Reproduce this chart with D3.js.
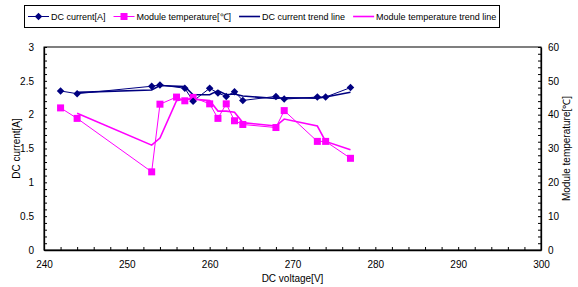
<!DOCTYPE html>
<meta charset="utf-8">
<head>
  <script src="https://cdn.jsdelivr.net/npm/d3@7"></script>
  <style>
    body { margin: 0; background: #fff; }
    text { font-family: "Liberation Sans", Arial, sans-serif; fill: #000; }
  </style>
</head>
<body>
<div id="container"></div>
<script>
// data (sorted by voltage)
var voltage = [242, 244, 253, 254, 256, 257, 258, 260, 261, 262, 263, 264, 268, 269, 273, 274, 277];
var current = [2.35, 2.31, 2.42, 2.44, null, 2.39, 2.20, 2.39, 2.32, 2.27, 2.34, 2.21, 2.27, 2.23, 2.26, 2.26, 2.40];
var temperature = [42.0, 38.9, 23.1, 43.1, 45.2, 44.1, 45.1, 43.2, 38.9, 43.2, 38.2, 37.1, 36.2, 41.2, 32.1, 32.1, 27.1];
var xTicks = [240, 250, 260, 270, 280, 290, 300];
var legendItems = ["DC current[A]", "Module temperature[\u2103]", "DC current trend line", "Module temperature trend line"];

var width = 578, height = 287;
var navy = "#000080", pink = "#ff00ff";

var svg = d3.select("#container").append("svg")
  .attr("width", width).attr("height", height);

var x = d3.scaleLinear().domain([240, 300]).range([44, 541]);
var yL = d3.scaleLinear().domain([0, 3]).range([250, 47]);
var yR = d3.scaleLinear().domain([0, 60]).range([250, 47]);

// plot frame
svg.append("rect")
  .attr("x", x(240)).attr("y", yL(3))
  .attr("width", x(300) - x(240)).attr("height", yL(0) - yL(3))
  .attr("fill", "none").attr("stroke", "#000").attr("stroke-width", 1);

// axes with inward ticks
function styleAxis(g) {
  g.select(".domain").attr("stroke", "#000").attr("stroke-width", 1.3);
  g.selectAll(".tick line").attr("stroke", "#000");
  g.selectAll("text").style("font-size", "10px").style("font-family", "Liberation Sans, Arial, sans-serif");
}

var bottom = svg.append("g").attr("transform", "translate(0," + yL(0) + ")")
  .call(d3.axisBottom(x).tickValues(d3.range(240, 301, 2)).tickSize(-3).tickSizeOuter(0).tickPadding(11)
    .tickFormat(function (d) { return xTicks.indexOf(d) >= 0 ? d : ""; }));
styleAxis(bottom);

var left = svg.append("g").attr("transform", "translate(" + x(240) + ",0)")
  .call(d3.axisLeft(yL).tickValues(d3.range(0, 30.1, 1).map(function (d) { return d / 10; }))
    .tickSize(-3).tickSizeOuter(0).tickPadding(10)
    .tickFormat(function (d) { return Math.round(d * 10) % 5 === 0 ? d3.format("~g")(d) : ""; }));
styleAxis(left);

var right = svg.append("g").attr("transform", "translate(" + x(300) + ",0)")
  .call(d3.axisRight(yR).tickValues(d3.range(0, 61, 2)).tickSize(-3).tickSizeOuter(0).tickPadding(7)
    .tickFormat(function (d) { return d % 10 === 0 ? d : ""; }));
styleAxis(right);

// axis titles
svg.append("text").attr("x", (x(240) + x(300)) / 2).attr("y", 282)
  .attr("text-anchor", "middle").style("font-size", "10px").text("DC voltage[V]");
svg.append("text").attr("transform", "translate(20," + ((yL(0) + yL(3)) / 2) + ") rotate(-90)")
  .attr("text-anchor", "middle").style("font-size", "10px").text("DC current[A]");
svg.append("text").attr("transform", "translate(570," + ((yL(0) + yL(3)) / 2) + ") rotate(-90)")
  .attr("text-anchor", "middle").style("font-size", "10px").text(legendItems[1]);

// series
var cur = voltage.map(function (v, i) { return { v: v, y: current[i] }; }).filter(function (d) { return d.y != null; });
var tmp = voltage.map(function (v, i) { return { v: v, y: temperature[i] }; });

// 2-period moving average trend lines
function movingAvg(arr) {
  var out = [];
  for (var i = 1; i < arr.length; i++) out.push({ v: arr[i].v, y: (arr[i - 1].y + arr[i].y) / 2 });
  return out;
}

var lineL = d3.line().x(function (d) { return x(d.v); }).y(function (d) { return yL(d.y); });
var lineR = d3.line().x(function (d) { return x(d.v); }).y(function (d) { return yR(d.y); });

svg.append("path").datum(movingAvg(cur)).attr("d", lineL)
  .attr("fill", "none").attr("stroke", navy).attr("stroke-width", 1.6);
svg.append("path").datum(movingAvg(tmp)).attr("d", lineR)
  .attr("fill", "none").attr("stroke", pink).attr("stroke-width", 1.6);

svg.append("path").datum(cur).attr("d", lineL)
  .attr("fill", "none").attr("stroke", navy).attr("stroke-width", 1);
svg.append("path").datum(tmp).attr("d", lineR)
  .attr("fill", "none").attr("stroke", pink).attr("stroke-width", 1);

svg.selectAll(".sq").data(tmp).enter().append("rect")
  .attr("x", function (d) { return x(d.v) - 3.5; })
  .attr("y", function (d) { return yR(d.y) - 3.5; })
  .attr("width", 7).attr("height", 7).attr("fill", pink);

var diamond = d3.symbol().type(d3.symbolDiamond2).size(36);
svg.selectAll(".dm").data(cur).enter().append("path")
  .attr("transform", function (d) { return "translate(" + x(d.v) + "," + yL(d.y) + ")"; })
  .attr("d", diamond).attr("fill", navy);

// legend
var lg = svg.append("g");
lg.append("rect").attr("x", 24.5).attr("y", 5.5).attr("width", 475).attr("height", 22)
  .attr("fill", "#fff").attr("stroke", "#000").attr("stroke-width", 1);
var lx = 28, ly = 16.5;
var kinds = [
  { color: navy, marker: "diamond", w: 1 },
  { color: pink, marker: "square", w: 1 },
  { color: navy, marker: null, w: 1.6 },
  { color: pink, marker: null, w: 1.6 }
];
legendItems.forEach(function (label, i) {
  var k = kinds[i];
  lg.append("line").attr("x1", lx).attr("x2", lx + 21).attr("y1", ly).attr("y2", ly)
    .attr("stroke", k.color).attr("stroke-width", k.w);
  if (k.marker === "diamond") {
    lg.append("path").attr("transform", "translate(" + (lx + 10.5) + "," + ly + ")")
      .attr("d", diamond).attr("fill", k.color);
  } else if (k.marker === "square") {
    lg.append("rect").attr("x", lx + 7).attr("y", ly - 3.5).attr("width", 7).attr("height", 7).attr("fill", k.color);
  }
  var t = lg.append("text").attr("x", lx + 23).attr("y", ly + 3.3)
    .style("font-size", "9px").text(label);
  lx += 23 + t.node().getComputedTextLength() + 8;
});
</script>
</body>
